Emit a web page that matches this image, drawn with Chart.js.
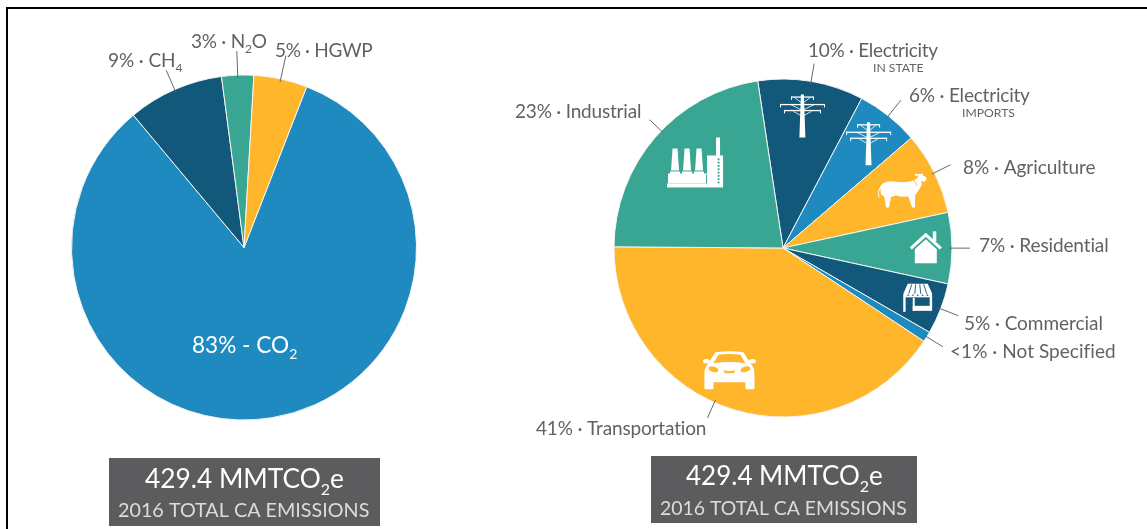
<!DOCTYPE html>
<html>
<head>
<meta charset="utf-8">
<style>
html,body{margin:0;padding:0;background:#fff;width:1147px;height:529px;overflow:hidden}
#frame{position:absolute;left:6px;top:7px;width:1141px;height:522px;border-left:2px solid #000;border-top:2px solid #000;box-sizing:border-box}
canvas{position:absolute;top:0}
#gas{left:0}
#sector{left:500px}
</style>
</head>
<body>
<div id="frame"></div>
<canvas id="gas" width="500" height="529"></canvas>
<canvas id="sector" width="647" height="529"></canvas>
<script src="https://cdn.jsdelivr.net/npm/chart.js@4/dist/chart.umd.min.js"></script>
<script>
// ---- data ----
const gasCategories = ["CO2", "CH4", "N2O", "HGWP"];
const gasValues = [83, 9, 3, 5];
const gasLabels = ["83% - CO_2", "9% · CH_4", "3% · N_2O", "5% · HGWP"];

const sectorCategories = ["Electricity in state", "Electricity imports", "Agriculture", "Residential", "Commercial", "Not Specified", "Transportation", "Industrial"];
const sectorValues = [10.1, 6, 7.9, 6.8, 4.9, 1, 40.8, 22.5];
const sectorLabels = ["10% · Electricity", "6% · Electricity", "8% · Agriculture", "7% · Residential", "5% · Commercial", "<1% · Not Specified", "41% · Transportation", "23% · Industrial"];
const sectorSubLabels = ["IN STATE", "IMPORTS", "", "", "", "", "", ""];

const captionTitle = "429.4 MMTCO_2e";
const captionSub = "2016 TOTAL CA EMISSIONS";

// ---- styles ----
const BLUE = "#1f8ac0", NAVY = "#12587a", TEAL = "#38a692", YELLOW = "#ffb62b", GREY = "#5c5c5e", TXT = "#616264";
const gasColors = [BLUE, NAVY, TEAL, YELLOW];
const sectorColors = [NAVY, BLUE, YELLOW, TEAL, NAVY, BLUE, YELLOW, TEAL];
const FONT = 'Lato, "Open Sans", sans-serif';

function runs(ctx, text, x, y, size, color, spacing) {
  const parts = text.split("_");
  let cx = x;
  ctx.save();
  ctx.fillStyle = color;
  ctx.textBaseline = "alphabetic";
  ctx.textAlign = "left";
  ctx.letterSpacing = (spacing || 0) + "px";
  parts.forEach((p, i) => {
    if (i === 0) {
      ctx.font = size + "px " + FONT;
      ctx.fillText(p, cx, y);
      cx += ctx.measureText(p).width;
    } else {
      const sub = p[0], rest = p.slice(1);
      ctx.font = Math.round(size * 0.62) + "px " + FONT;
      ctx.fillText(sub, cx, y + size * 0.27);
      cx += ctx.measureText(sub).width;
      ctx.font = size + "px " + FONT;
      ctx.fillText(rest, cx, y);
      cx += ctx.measureText(rest).width;
    }
  });
  ctx.restore();
}

// ---- pictograms, drawn around (0,0) ----
const icons = {
  pylon(c, bg) {
    c.strokeStyle = "#fff"; c.fillStyle = "#fff";
    c.beginPath(); c.moveTo(-1.5, -22); c.lineTo(1.5, -22); c.lineTo(3, 21); c.lineTo(-3, 21); c.fill();
    c.lineWidth = 1;
    [[-20, 11], [-12.5, 22], [-6.5, 18]].forEach(([y, w]) => {
      c.fillRect(-w, y, w * 2, 1.3);
      [-w, w].forEach(e => c.fillRect(e - 0.4, y, 1, 3.5));
    });
    c.lineWidth = 0.8;
    c.beginPath();
    c.moveTo(-8, -19); c.lineTo(0, -13); c.lineTo(8, -19);
    c.moveTo(-12, -12); c.lineTo(0, -6); c.lineTo(12, -12);
    c.moveTo(-9, -5); c.lineTo(0, 0); c.lineTo(9, -5);
    c.stroke();
  },
  sheep(c, bg) {
    c.fillStyle = "#fff"; c.strokeStyle = "#fff";
    c.beginPath(); c.moveTo(-22, -5); c.quadraticCurveTo(-18, -11, -8, -10); c.quadraticCurveTo(3, -8, 12, -11);
    c.lineTo(17, -15); c.lineTo(20, -7); c.lineTo(14, 3); c.quadraticCurveTo(4, 7, -6, 4); c.quadraticCurveTo(-16, 8, -21, 3); c.closePath(); c.fill();
    c.beginPath(); c.ellipse(20, -13, 4.5, 3, 0.25, 0, Math.PI * 2); c.fill();
    c.fillRect(13, -17.5, 8, 1.8);
    c.lineWidth = 1; c.beginPath(); c.moveTo(-22, -4); c.quadraticCurveTo(-25, 1, -23, 6); c.stroke();
    c.beginPath(); c.moveTo(-18, 3); c.lineTo(-11, 5); c.lineTo(-13, 16); c.lineTo(-16, 16); c.fill();
    c.beginPath(); c.moveTo(6, 4); c.lineTo(13, 3); c.lineTo(13, 16); c.lineTo(10, 16); c.fill();
    c.strokeStyle = bg; c.lineWidth = 0.8;
    c.beginPath(); c.moveTo(11, -12); c.lineTo(15, -6); c.stroke();
  },
  house(c, bg) {
    c.fillStyle = "#fff"; c.strokeStyle = "#fff";
    c.fillRect(7, -16, 3.5, 10);
    c.beginPath(); c.moveTo(-15, 1); c.lineTo(0, -12.5); c.lineTo(15, 1); c.lineWidth = 3; c.lineJoin = "miter"; c.stroke();
    c.beginPath(); c.moveTo(-11, 16); c.lineTo(-11, 2); c.lineTo(0, -8); c.lineTo(11, 2); c.lineTo(11, 16); c.fill();
  },
  shop(c, bg) {
    c.fillStyle = "#fff"; c.strokeStyle = "#fff";
    c.beginPath(); c.moveTo(-10, -14); c.lineTo(10, -14); c.lineTo(14.5, -4);
    for (let i = 0; i < 6; i++) c.arc(14.5 - 2.4 - i * 4.83, -4, 2.4, 0, Math.PI);
    c.closePath(); c.fill();
    c.strokeStyle = bg; c.lineWidth = 0.9; c.beginPath();
    [-6, -2, 2, 6].forEach(x => { c.moveTo(x, -13.5); c.lineTo(x * 1.5, -4); });
    c.stroke();
    c.fillRect(-14.5, -3, 2.4, 17);
    c.fillRect(12, -3, 2.4, 16);
    c.fillRect(-12.5, -2, 25, 1.5);
    c.fillRect(-5, 0, 2, 13);
    c.fillRect(-5, 8, 18, 5);
  },
  car(c, bg) {
    c.fillStyle = "#fff";
    c.beginPath();
    c.moveTo(-14, -18); c.quadraticCurveTo(0, -20, 14, -18);
    c.quadraticCurveTo(18, -12, 21, -7); c.quadraticCurveTo(25, -3, 25, 3);
    c.lineTo(25, 12); c.lineTo(-25, 12); c.lineTo(-25, 3);
    c.quadraticCurveTo(-25, -3, -21, -7); c.quadraticCurveTo(-18, -12, -14, -18);
    c.fill();
    c.beginPath(); c.ellipse(-23, -9, 3.5, 2.2, 0, 0, Math.PI * 2); c.ellipse(23, -9, 3.5, 2.2, 0, 0, Math.PI * 2); c.fill();
    c.beginPath();
    c.roundRect(-25, 10, 9, 9, 1.5); c.roundRect(16, 10, 9, 9, 1.5); c.fill();
    c.fillStyle = bg;
    c.beginPath(); c.moveTo(-11, -15.5); c.quadraticCurveTo(0, -17, 11, -15.5); c.lineTo(16, -7); c.quadraticCurveTo(0, -9.5, -16, -7); c.closePath(); c.fill();
    c.beginPath(); c.ellipse(-16, -1, 5, 2.6, 0.3, 0, Math.PI * 2); c.fill();
    c.beginPath(); c.ellipse(16, -1, 5, 2.6, -0.3, 0, Math.PI * 2); c.fill();
    c.beginPath(); c.moveTo(-6, 0); c.quadraticCurveTo(0, 1.5, 6, 0); c.lineTo(4.5, 3); c.lineTo(-4.5, 3); c.closePath(); c.fill();
  },
  factory(c, bg) {
    c.fillStyle = "#fff";
    c.fillRect(-28, 21, 56, 4);
    c.fillRect(-27, 11, 40, 10);
    [-20, -8, 4].forEach(x => {
      c.beginPath(); c.moveTo(x - 2.5, -14); c.lineTo(x + 2.5, -14); c.lineTo(x + 4, 8); c.lineTo(x - 4, 8); c.fill();
      c.fillRect(x - 5, 9, 10, 3);
    });
    c.fillRect(12, -7, 16, 30);
    c.fillRect(21, -25, 4, 20);
    c.fillStyle = bg;
    for (let y = -4; y < 20; y += 3.3) c.fillRect(22.5, y, 2, 1.8);
    c.fillRect(11, 12, 1, 9);
  }
};

// ---- overlay plugin: leaders, labels, pictograms, caption ----
function overlay(cfg) {
  return {
    id: "overlay",
    afterDatasetsDraw(chart) {
      const ctx = chart.ctx;
      const arcs = chart.getDatasetMeta(0).data;
      const colors = chart.data.datasets[0].backgroundColor;
      arcs.forEach((arc, i) => {
        const mid = (arc.startAngle + arc.endAngle) / 2;
        const L = cfg.leaders[i];
        if (L) {
          const a = mid + (L.off || 0) * Math.PI / 180;
          ctx.save();
          ctx.strokeStyle = "#66686a"; ctx.lineWidth = 1;
          ctx.beginPath();
          ctx.moveTo(arc.x + Math.cos(a) * (arc.outerRadius - 3), arc.y + Math.sin(a) * (arc.outerRadius - 3));
          ctx.lineTo(arc.x + Math.cos(a) * (arc.outerRadius + L.len), arc.y + Math.sin(a) * (arc.outerRadius + L.len));
          ctx.stroke();
          ctx.restore();
        }
        const ic = cfg.icons[i];
        if (ic) {
          const a = mid + (ic.off || 0) * Math.PI / 180, r = arc.outerRadius * ic.r;
          ctx.save();
          ctx.translate(arc.x + Math.cos(a) * r, arc.y + Math.sin(a) * r);
          icons[ic.name](ctx, colors[i]);
          ctx.restore();
        }
      });
      cfg.texts.forEach(t => runs(ctx, t.text, t.x, t.y, t.size, t.color || TXT, t.sp));
      const b = cfg.box;
      ctx.fillStyle = GREY;
      ctx.fillRect(b.x, b.y, b.w, b.h);
      runs(ctx, captionTitle, b.tx, b.ty, b.ts, "#ffffff", 0);
      runs(ctx, captionSub, b.sx, b.sy, b.ss, "#dcdcdc", 0);
    }
  };
}

function pie(id, labels, values, colors, rotation, pad, cfg) {
  new Chart(document.getElementById(id), {
    type: "pie",
    data: { labels, datasets: [{ data: values, backgroundColor: colors, borderColor: "#f4f4f4", borderWidth: 1, hoverOffset: 0 }] },
    options: {
      responsive: false, animation: false, rotation,
      layout: { padding: pad },
      plugins: { legend: { display: false }, tooltip: { enabled: false }, title: { display: false } }
    },
    plugins: [overlay(cfg)]
  });
}

pie("gas", gasCategories, gasValues, gasColors, 21.3,
  { left: 71, right: 83, top: 74.5, bottom: 108.5 },
  {
    leaders: [null, { len: 21 }, { len: 24 }, { len: 24 }],
    icons: [],
    texts: [
      { text: gasLabels[0], x: 192, y: 353, size: 22.6, color: "#fff" },
      { text: gasLabels[1], x: 108, y: 67, size: 19, sp: -0.1 },
      { text: gasLabels[2], x: 191, y: 48, size: 19, sp: -0.25 },
      { text: gasLabels[3], x: 275, y: 57, size: 19, sp: -0.33 }
    ],
    box: { x: 109, y: 458, w: 271, h: 68, tx: 145, ty: 488, ts: 26.3, sx: 118, sy: 517, ss: 19.75 }
  });

// the sector canvas starts 500px from the page's left edge
const ox = 500;
pie("sector", sectorCategories, sectorValues, sectorColors, -8.6,
  { left: 613.5 - ox, right: 647 - (952.5 - ox), top: 78, bottom: 529 - 418 },
  {
    leaders: [{ len: 18 }, { len: 20 }, { len: 18 }, { len: 18 }, { len: 19 }, { len: 19 }, { len: 17, off: 7 }, { len: 16, off: 3 }],
    icons: [
      { name: "pylon", r: 0.787, off: -1.2 },
      { name: "pylon", r: 0.796, off: 0.9 },
      { name: "sheep", r: 0.78, off: 1 },
      { name: "house", r: 0.845, off: -0.3 },
      { name: "shop", r: 0.85, off: -0.8 },
      null,
      { name: "car", r: 0.79, off: 6.7 },
      { name: "factory", r: 0.726, off: 3.3 }
    ],
    texts: [
      { text: sectorLabels[0], x: 808 - ox, y: 57, size: 19, sp: -0.3 },
      { text: sectorSubLabels[0], x: 873 - ox, y: 72, size: 12.2 },
      { text: sectorLabels[1], x: 909 - ox, y: 102, size: 19, sp: -0.2 },
      { text: sectorSubLabels[1], x: 962 - ox, y: 117, size: 12.2 },
      { text: sectorLabels[2], x: 963 - ox, y: 174, size: 19, sp: -0.05 },
      { text: sectorLabels[3], x: 979 - ox, y: 252, size: 19, sp: -0.12 },
      { text: sectorLabels[4], x: 964 - ox, y: 330, size: 19, sp: -0.05 },
      { text: sectorLabels[5], x: 950 - ox, y: 358, size: 19, sp: 0.05 },
      { text: sectorLabels[6], x: 536 - ox, y: 435, size: 19, sp: -0.15 },
      { text: sectorLabels[7], x: 515 - ox, y: 118, size: 19, sp: -0.2 }
    ],
    box: { x: 651 - ox, y: 456, w: 266, h: 67, tx: 686 - ox, ty: 485, ts: 26, sx: 660 - ox, sy: 515, ss: 19.4 }
  });
</script>
</body>
</html>
